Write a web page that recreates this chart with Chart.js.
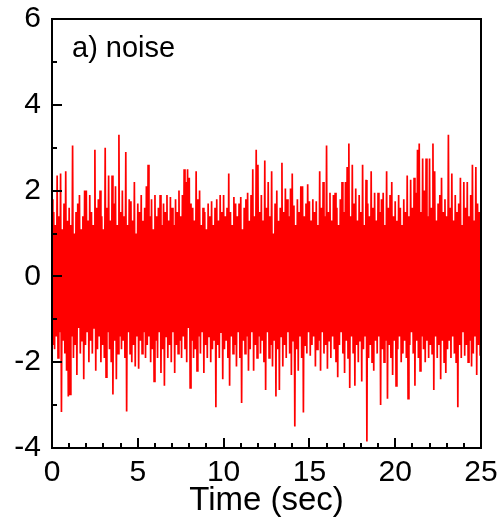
<!DOCTYPE html>
<html>
<head>
    <meta charset="UTF-8">
    <title>noise</title>
    <script src="https://cdn.jsdelivr.net/npm/chart.js"></script>
    <style>
        body { margin: 0; background: white; }
        #wrap { width: 500px; height: 521px; }
    </style>
</head>
<body>
    <div id="wrap"><canvas id="noiseChart"></canvas></div>
    <script>
        // sample spacing (sec): each step holds one upper and one lower excursion
        const sampleStep = 0.1;

        // upper excursions, 10 per second
        const upperValues = [
            1.8, 1.5, 1.2, 2.35, 1.4, 2.4, 1.1, 1.7, 2.45, 1.3,
            1.6, 1.2, 3.05, 1.0, 1.5, 1.7, 1.9, 1.1, 1.4, 2.0,
            2.0, 1.3, 1.9, 1.5, 1.2, 2.95, 1.6, 1.8, 2.0, 1.4,
            1.1, 3.0, 1.6, 2.35, 1.3, 2.35, 1.7, 2.1, 1.2, 3.3,
            1.5, 2.0, 1.4, 2.9, 1.2, 1.8, 1.75, 1.3, 2.2, 1.0,
            1.7, 1.5, 1.9, 1.3, 1.6, 2.1, 2.6, 1.4, 1.8, 1.1,
            1.9, 1.4, 1.6, 1.9, 1.2, 1.7, 1.5, 1.9, 1.3, 1.85,
            1.6, 1.2, 1.8, 1.5, 2.0, 1.4, 1.9, 2.5, 2.2, 2.5,
            2.3, 1.7, 1.6, 1.3, 2.45, 1.8, 2.0, 1.2, 1.6, 1.5,
            1.1, 1.7, 1.4, 1.75, 1.2, 1.6, 1.8, 1.3, 1.9, 1.5,
            1.9, 1.4, 1.6, 2.4, 1.5, 1.2, 1.85, 1.7, 1.4, 1.7,
            1.85, 1.1, 1.6, 1.8, 1.95, 1.3, 1.9, 2.5, 1.4, 2.95,
            2.6, 1.5, 1.9, 1.3, 2.7, 1.6, 2.2, 1.4, 2.45, 1.0,
            1.7, 2.0, 1.3, 1.6, 2.65, 1.5, 2.05, 1.8, 1.4, 2.05,
            2.4, 1.65, 1.2, 1.8, 1.5, 2.1, 2.1, 1.4, 1.7, 2.15,
            1.75, 1.3, 1.8, 1.5, 1.75, 1.2, 2.45, 1.6, 2.2, 1.4,
            3.05, 1.5, 1.95, 1.3, 1.9, 1.95, 1.6, 1.2, 1.8, 2.2,
            1.5, 2.2, 2.55, 3.1, 1.4, 2.6, 1.7, 2.05, 1.3, 1.9,
            1.5, 2.6, 1.2, 2.25, 1.7, 1.4, 2.45, 1.6, 1.95, 1.3,
            1.95, 1.5, 1.8, 1.95, 1.2, 2.45, 1.6, 1.9, 2.2, 1.4,
            1.75, 1.3, 1.9, 1.6, 1.2, 1.8, 1.5, 2.35, 1.4, 2.25,
            1.6, 2.3, 1.95, 2.95, 3.1, 1.5, 2.75, 2.0, 2.75, 1.4,
            2.75, 1.6, 3.1, 2.45, 1.3, 1.7, 1.9, 2.3, 1.5, 1.8,
            1.4, 3.3, 1.6, 2.4, 1.3, 1.9, 1.5, 1.7, 2.3, 1.2,
            2.2, 1.6, 2.2, 1.4, 1.9, 2.6, 1.3, 2.55, 1.7, 1.5
        ];

        // lower excursions, 10 per second
        const lowerValues = [
            -1.6, -1.7, -1.4, -1.9, -1.3, -3.16, -1.5, -1.8, -2.2, -2.8,
            -2.75, -1.4, -1.9, -1.6, -2.3, -1.2, -1.8, -1.5, -2.4, -1.6,
            -1.3, -2.0, -1.5, -1.8, -1.2, -2.2, -1.7, -1.4, -2.0, -1.6,
            -1.9, -2.35, -1.3, -1.7, -2.0, -2.75, -1.5, -2.4, -1.8, -1.4,
            -1.7, -1.5, -1.9, -3.15, -1.3, -1.8, -2.0, -1.6, -2.1, -1.4,
            -2.15, -1.5, -1.8, -1.3, -1.9, -1.6, -1.4, -2.0, -1.7, -2.45,
            -1.5, -1.9, -1.3, -2.25, -1.7, -2.55, -1.4, -1.9, -1.6, -2.0,
            -1.3, -2.25, -1.6, -1.8, -1.5, -1.9, -1.4, -1.7, -2.0, -1.2,
            -2.6, -1.5, -1.9, -1.7, -2.2, -1.4, -1.8, -1.3, -2.25, -1.6,
            -1.9, -1.4, -2.0, -1.7, -1.5, -3.05, -1.6, -1.9, -1.3, -2.4,
            -1.7, -1.5, -1.9, -2.55, -1.4, -1.8, -1.6, -2.1, -1.3, -1.9,
            -2.95, -1.5, -1.8, -1.4, -2.2, -1.7, -1.3, -2.2, -1.6, -1.9,
            -1.4, -1.8, -1.5, -2.0, -2.65, -1.3, -1.9, -1.6, -2.1, -1.5,
            -2.8, -1.7, -2.65, -1.4, -2.1, -1.6, -1.9, -1.3, -1.8, -2.3,
            -1.5, -3.5, -1.7, -2.2, -1.4, -1.9, -3.17, -1.6, -1.8, -1.3,
            -1.85, -1.6, -1.4, -2.1, -1.7, -1.5, -2.2, -1.3, -1.8, -1.6,
            -2.15, -1.5, -1.9, -1.4, -1.7, -2.0, -2.35, -1.6, -1.3, -1.8,
            -2.25, -1.5, -1.9, -2.6, -1.4, -1.8, -2.55, -1.6, -2.0, -1.5,
            -2.45, -1.7, -1.4, -3.85, -1.9, -1.6, -2.0, -2.2, -1.5, -1.8,
            -1.4, -3.0, -1.7, -2.0, -1.5, -2.85, -1.6, -1.9, -2.3, -1.5,
            -2.55, -1.7, -1.4, -2.0, -1.8, -1.5, -1.9, -2.85, -1.6, -1.3,
            -1.8, -2.55, -1.5, -1.9, -2.2, -1.4, -1.7, -2.0, -1.5, -1.9,
            -1.6, -1.8, -2.65, -1.4, -1.9, -1.6, -2.4, -1.5, -2.0, -2.25,
            -1.7, -1.5, -1.9, -1.4, -1.8, -2.0, -3.05, -1.6, -1.9, -1.3,
            -1.85, -1.6, -2.0, -1.5, -2.1, -1.8, -1.4, -2.3, -1.6, -1.85
        ];

        const xTickLabels = [0, 5, 10, 15, 20, 25];
        const yTickLabels = [-4, -2, 0, 2, 4, 6];
        const panelLabel = 'a) noise';
        const xTitle = 'Time (sec)';

        // interleave upper/lower excursions into one time series
        const points = [];
        upperValues.forEach((u, i) => {
            points.push({ x: i * sampleStep, y: u });
            points.push({ x: i * sampleStep + sampleStep / 2, y: lowerValues[i] });
        });

        Chart.defaults.font.family = "'Liberation Sans', Arial, sans-serif";
        Chart.defaults.color = '#000';

        // frame, inward ticks and panel label
        const framePlugin = {
            id: 'framePlugin',
            afterDraw(chart) {
                const { ctx, chartArea: a, scales: { x, y } } = chart;
                ctx.save();
                ctx.strokeStyle = '#000';
                ctx.lineWidth = 2;
                ctx.beginPath();
                for (let v = 1; v < 25; v++) {
                    const px = Math.round(x.getPixelForValue(v));
                    const len = v % 5 === 0 ? 10 : 5;
                    ctx.moveTo(px, a.bottom);
                    ctx.lineTo(px, a.bottom - len);
                }
                for (let v = -3; v < 6; v++) {
                    const py = Math.round(y.getPixelForValue(v));
                    const len = v % 2 === 0 ? 10 : 5;
                    ctx.moveTo(a.left, py);
                    ctx.lineTo(a.left + len, py);
                }
                ctx.stroke();
                ctx.strokeRect(a.left, a.top, a.right - a.left, a.bottom - a.top);

                ctx.fillStyle = '#000';
                ctx.font = "29px 'Liberation Sans', Arial, sans-serif";
                ctx.textBaseline = 'alphabetic';
                ctx.fillText(panelLabel, a.left + 20, a.top + 38);
                ctx.restore();
            }
        };

        new Chart(document.getElementById('noiseChart'), {
            type: 'line',
            data: {
                datasets: [{
                    data: points,
                    borderColor: '#ff0000',
                    borderWidth: 1.7,
                    pointRadius: 0,
                    tension: 0,
                    fill: false
                }]
            },
            options: {
                responsive: true,
                maintainAspectRatio: false,
                animation: false,
                events: [],
                layout: { padding: { top: 19, right: 19, left: 0, bottom: 0 } },
                plugins: {
                    legend: { display: false },
                    tooltip: { enabled: false }
                },
                scales: {
                    x: {
                        type: 'linear',
                        min: 0,
                        max: 25,
                        afterFit: s => { s.height = 73; },
                        afterBuildTicks: s => { s.ticks = xTickLabels.map(v => ({ value: v })); },
                        grid: { display: false, drawTicks: false },
                        border: { display: false },
                        ticks: { font: { size: 30, lineHeight: 1.5 }, padding: 2, maxRotation: 0, autoSkip: false },
                        title: {
                            display: true,
                            text: xTitle,
                            font: { size: 33 },
                            padding: { top: 0, bottom: 0 }
                        }
                    },
                    y: {
                        min: -4,
                        max: 6,
                        afterFit: s => { s.width = 52; },
                        afterBuildTicks: s => { s.ticks = yTickLabels.map(v => ({ value: v })); },
                        grid: { display: false, drawTicks: false },
                        border: { display: false },
                        ticks: { font: { size: 30, lineHeight: 0.5 }, padding: 11 }
                    }
                }
            },
            plugins: [framePlugin]
        });
    </script>
</body>
</html>
